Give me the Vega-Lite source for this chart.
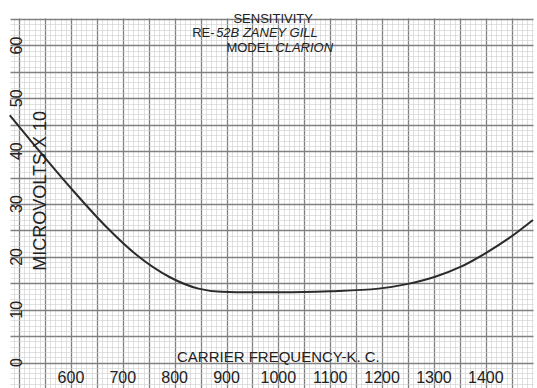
{
  "$schema": "https://vega.github.io/schema/vega-lite/v6.json",
  "width": 537,
  "height": 388,
  "autosize": {"type": "fit", "contains": "padding"},
  "padding": {"top": 12, "left": 5, "right": 0, "bottom": 0},
  "background": "#ffffff",
  "config": {"view": {"stroke": null}},
  "datasets": {
    "curve": [
      {"kc": 482, "uv": 46.8},
      {"kc": 535, "uv": 40.5},
      {"kc": 600, "uv": 33.0},
      {"kc": 668, "uv": 25.7},
      {"kc": 725, "uv": 20.5},
      {"kc": 790, "uv": 16.2},
      {"kc": 846, "uv": 14.0},
      {"kc": 890, "uv": 13.4},
      {"kc": 947, "uv": 13.3},
      {"kc": 1004, "uv": 13.3},
      {"kc": 1099, "uv": 13.5},
      {"kc": 1193, "uv": 14.0},
      {"kc": 1250, "uv": 14.9},
      {"kc": 1301, "uv": 16.2},
      {"kc": 1351, "uv": 18.1},
      {"kc": 1396, "uv": 20.5},
      {"kc": 1444, "uv": 23.5},
      {"kc": 1491, "uv": 27.0}
    ],
    "xlabels": [
      {"kc": 600, "uv": -3, "t": "600"},
      {"kc": 700, "uv": -3, "t": "700"},
      {"kc": 800, "uv": -3, "t": "800"},
      {"kc": 900, "uv": -3, "t": "900"},
      {"kc": 1000, "uv": -3, "t": "1000"},
      {"kc": 1100, "uv": -3, "t": "1100"},
      {"kc": 1200, "uv": -3, "t": "1200"},
      {"kc": 1300, "uv": -3, "t": "1300"},
      {"kc": 1400, "uv": -3, "t": "1400"}
    ],
    "ylabels": [
      {"kc": 496, "uv": 0, "t": "0"},
      {"kc": 496, "uv": 10, "t": "10"},
      {"kc": 496, "uv": 20, "t": "20"},
      {"kc": 496, "uv": 30, "t": "30"},
      {"kc": 496, "uv": 40, "t": "40"},
      {"kc": 496, "uv": 50, "t": "50"},
      {"kc": 496, "uv": 60, "t": "60"}
    ],
    "ytitle": [{"kc": 542, "uv": 32.5, "t": "MICROVOLTS X 10"}],
    "xtitle": [{"kc": 1000, "uv": 1.1, "t": "CARRIER FREQUENCY-K. C."}],
    "title1": [{"kc": 990, "uv": 65.1, "t": "SENSITIVITY"}],
    "title2a": [{"kc": 877, "uv": 62.4, "t": "RE-"}, {"kc": 989, "uv": 59.6, "t": "MODEL"}],
    "title2b": [{"kc": 880, "uv": 62.4, "t": "52B ZANEY GILL"}, {"kc": 994, "uv": 59.6, "t": "CLARION"}]
  },
  "layer": [
    {
      "data": {"name": "curve"},
      "mark": {"type": "line", "interpolate": "monotone", "color": "#2b2b2b", "strokeWidth": 2},
      "encoding": {
        "x": {
          "field": "kc", "type": "quantitative",
          "scale": {"domain": [482.5, 1491], "nice": false, "zero": false},
          "axis": {
            "title": null, "labels": false, "ticks": false, "domain": false, "grid": true,
            "tickCount": 101,
            "gridColor": {"condition": {"test": "round(datum.value) % 50 == 0", "value": "#808080"}, "value": "#cdcdcd"},
            "gridWidth": {"condition": {"test": "round(datum.value) % 50 == 0", "value": 1.3}, "value": 0.6},
            "gridOpacity": 1
          }
        },
        "y": {
          "field": "uv", "type": "quantitative",
          "scale": {"domain": [-4.8, 65.2], "nice": false, "zero": false},
          "axis": {
            "title": null, "labels": false, "ticks": false, "domain": false, "grid": true,
            "tickCount": 70,
            "gridColor": {"condition": {"test": "round(datum.value) % 5 == 0", "value": "#808080"}, "value": "#cdcdcd"},
            "gridWidth": {"condition": {"test": "round(datum.value) % 5 == 0", "value": 1.3}, "value": 0.6},
            "gridOpacity": 1
          }
        }
      }
    },
    {
      "data": {"name": "xlabels"},
      "mark": {"type": "text", "font": "Liberation Sans", "fontSize": 16, "color": "#222", "baseline": "middle", "align": "center"},
      "encoding": {
        "x": {"field": "kc", "type": "quantitative"},
        "y": {"field": "uv", "type": "quantitative"},
        "text": {"field": "t"}
      }
    },
    {
      "data": {"name": "ylabels"},
      "mark": {"type": "text", "font": "Liberation Sans", "fontSize": 16, "color": "#222", "baseline": "middle", "align": "center", "angle": 270},
      "encoding": {
        "x": {"field": "kc", "type": "quantitative"},
        "y": {"field": "uv", "type": "quantitative"},
        "text": {"field": "t"}
      }
    },
    {
      "data": {"name": "ytitle"},
      "mark": {"type": "text", "font": "Liberation Sans", "fontSize": 18, "color": "#222", "baseline": "middle", "align": "center", "angle": 270},
      "encoding": {
        "x": {"field": "kc", "type": "quantitative"},
        "y": {"field": "uv", "type": "quantitative"},
        "text": {"field": "t"}
      }
    },
    {
      "data": {"name": "xtitle"},
      "mark": {"type": "text", "font": "Liberation Sans", "fontSize": 15, "color": "#222", "baseline": "middle", "align": "center"},
      "encoding": {
        "x": {"field": "kc", "type": "quantitative"},
        "y": {"field": "uv", "type": "quantitative"},
        "text": {"field": "t"}
      }
    },
    {
      "data": {"name": "title1"},
      "mark": {"type": "text", "font": "Liberation Sans", "fontSize": 13, "color": "#222", "baseline": "middle", "align": "center"},
      "encoding": {
        "x": {"field": "kc", "type": "quantitative"},
        "y": {"field": "uv", "type": "quantitative"},
        "text": {"field": "t"}
      }
    },
    {
      "data": {"name": "title2a"},
      "mark": {"type": "text", "font": "Liberation Sans", "fontSize": 13, "color": "#222", "baseline": "middle", "align": "right"},
      "encoding": {
        "x": {"field": "kc", "type": "quantitative"},
        "y": {"field": "uv", "type": "quantitative"},
        "text": {"field": "t"}
      }
    },
    {
      "data": {"name": "title2b"},
      "mark": {"type": "text", "font": "Liberation Sans", "fontSize": 13, "fontStyle": "italic", "color": "#222", "baseline": "middle", "align": "left"},
      "encoding": {
        "x": {"field": "kc", "type": "quantitative"},
        "y": {"field": "uv", "type": "quantitative"},
        "text": {"field": "t"}
      }
    }
  ]
}
